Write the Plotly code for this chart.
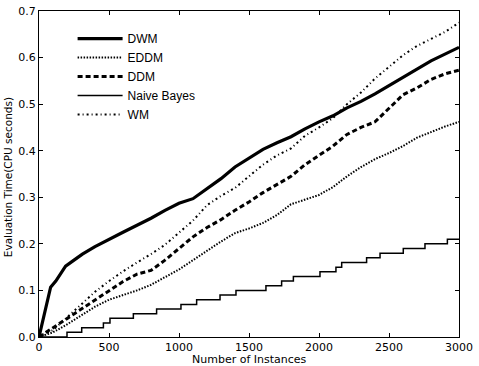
import plotly.graph_objects as go

x_grid = [0, 100, 200, 300, 400, 500, 600, 700, 800, 900, 1000, 1100, 1200, 1300, 1400, 1500,
          1600, 1700, 1800, 1900, 2000, 2100, 2200, 2300, 2400, 2500, 2600, 2700, 2800, 2900, 3000]

dwm_x = [0, 40, 83, 120, 155, 190, 250, 310, 400, 500, 600, 700, 800, 900, 1000, 1100, 1200, 1300,
         1400, 1500, 1600, 1700, 1800, 1900, 2000, 2100, 2200, 2300, 2400, 2500, 2600, 2700, 2800, 2900, 3000]
dwm_y = [0.0, 0.05, 0.107, 0.12, 0.135, 0.152, 0.165, 0.178, 0.194, 0.21, 0.225, 0.24, 0.255, 0.272,
         0.287, 0.297, 0.318, 0.34, 0.365, 0.385, 0.403, 0.417, 0.43, 0.447, 0.462, 0.475, 0.492,
         0.506, 0.522, 0.54, 0.557, 0.575, 0.593, 0.607, 0.622]

eddm_y = [0.0, 0.01, 0.027, 0.046, 0.065, 0.08, 0.09, 0.1, 0.112, 0.128, 0.145, 0.165, 0.185, 0.205,
          0.223, 0.233, 0.245, 0.262, 0.285, 0.295, 0.305, 0.322, 0.345, 0.365, 0.382, 0.395, 0.41,
          0.428, 0.44, 0.452, 0.462]

ddm_y = [0.0, 0.02, 0.04, 0.06, 0.08, 0.1, 0.119, 0.135, 0.143, 0.165, 0.19, 0.215, 0.235, 0.252,
         0.272, 0.29, 0.31, 0.328, 0.345, 0.37, 0.39, 0.41, 0.435, 0.45, 0.462, 0.49, 0.52, 0.535,
         0.553, 0.565, 0.573]

wm_y = [0.0, 0.015, 0.042, 0.07, 0.097, 0.12, 0.141, 0.16, 0.178, 0.198, 0.225, 0.25, 0.283, 0.303,
        0.32, 0.345, 0.37, 0.39, 0.405, 0.432, 0.45, 0.47, 0.5, 0.525, 0.555, 0.58, 0.605, 0.625,
        0.64, 0.655, 0.675]

nb_x = [0, 200, 305, 460, 507, 674, 840, 1014, 1126, 1293, 1407, 1621, 1733, 1817, 2007, 2121,
        2162, 2340, 2436, 2602, 2757, 2917, 3000]
nb_y = [0.0, 0.01, 0.02, 0.03, 0.04, 0.05, 0.06, 0.07, 0.08, 0.09, 0.10, 0.11, 0.12, 0.13, 0.14,
        0.15, 0.16, 0.17, 0.18, 0.19, 0.20, 0.21, 0.21]

x_ticks = [0, 500, 1000, 1500, 2000, 2500, 3000]
y_ticks = [0.0, 0.1, 0.2, 0.3, 0.4, 0.5, 0.6, 0.7]

x_title = "Number of Instances"
y_title = "Evaluation Time(CPU seconds)"

fig = go.Figure()
fig.add_trace(go.Scatter(x=dwm_x, y=dwm_y, name="DWM", mode="lines",
                         line=dict(color="black", width=3.2)))
fig.add_trace(go.Scatter(x=x_grid, y=eddm_y, name="EDDM", mode="lines",
                         line=dict(color="black", width=2, dash="1.5px,1.5px")))
fig.add_trace(go.Scatter(x=x_grid, y=ddm_y, name="DDM", mode="lines",
                         line=dict(color="black", width=3, dash="5px,3px")))
fig.add_trace(go.Scatter(x=nb_x, y=nb_y, name="Naive Bayes", mode="lines",
                         line=dict(color="black", width=1.5, shape="hv")))
fig.add_trace(go.Scatter(x=x_grid, y=wm_y, name="WM", mode="lines",
                         line=dict(color="black", width=2, dash="2px,3px,1px,3px")))

axis_common = dict(showline=True, linecolor="black", linewidth=1, mirror="allticks",
                   ticks="inside", ticklen=4, tickcolor="black", showgrid=False,
                   zeroline=False, automargin=False,
                   tickfont=dict(family="DejaVu Sans", size=11, color="black"))

fig.update_xaxes(range=[0, 3000], tickvals=x_ticks, ticktext=[str(v) for v in x_ticks],
                 **axis_common)
fig.update_yaxes(range=[0, 0.7], tickvals=y_ticks, ticktext=["%.1f" % v for v in y_ticks],
                 **axis_common)

fig.add_annotation(text=x_title, xref="paper", yref="paper", x=0.5, y=-0.068,
                   xanchor="center", yanchor="middle", showarrow=False,
                   font=dict(family="DejaVu Sans", size=11, color="black"))
fig.add_annotation(text=y_title, xref="paper", yref="paper", x=-0.074, y=0.49,
                   xanchor="center", yanchor="middle", showarrow=False, textangle=-90,
                   font=dict(family="DejaVu Sans", size=10.5, color="black"))

fig.update_layout(
    width=479, height=366,
    margin=dict(l=39, r=20, t=11, b=29),
    paper_bgcolor="white", plot_bgcolor="white",
    font=dict(family="DejaVu Sans", size=12, color="black"),
    showlegend=True,
    legend=dict(x=0.08, y=0.96, xanchor="left", yanchor="top",
                bgcolor="rgba(0,0,0,0)", borderwidth=0,
                font=dict(family="Liberation Sans", size=12, color="black"),
                itemwidth=45, tracegroupgap=0),
)

fig.write_html("out.html", config={"displayModeBar": False},
               post_script="document.body.style.margin='0';document.body.style.padding='0';")
